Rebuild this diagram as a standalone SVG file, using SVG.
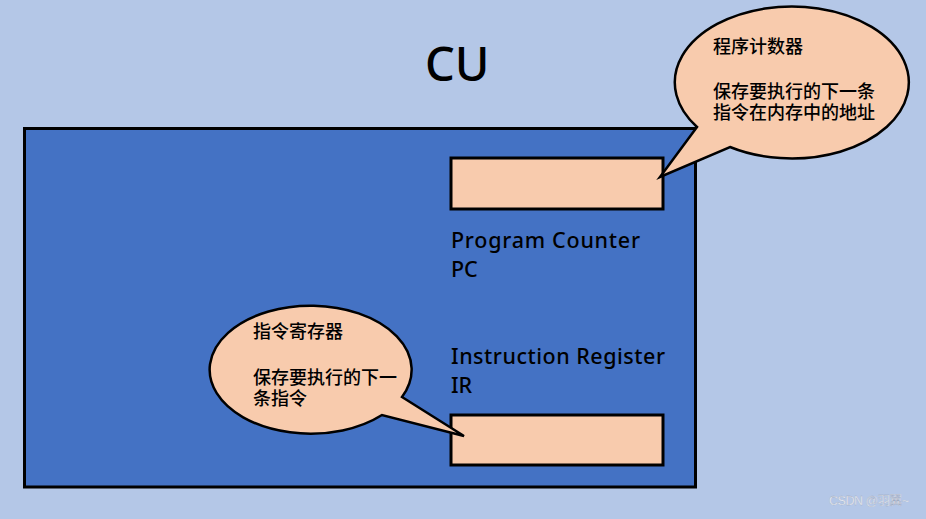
<svg xmlns="http://www.w3.org/2000/svg" width="926" height="519" viewBox="0 0 926 519">
<style>
.box{fill:#F8CBAD;stroke:#000;stroke-width:3}
.lbl{font-family:"Noto Sans","Noto Sans CJK SC",sans-serif;font-size:21.5px;font-weight:500;fill:#000}
.cn{font-family:"Noto Sans CJK SC","Noto Sans",sans-serif;font-size:18px;font-weight:500;fill:#000}
.bub{fill:#F8CBAD;stroke:#000;stroke-width:2.5;stroke-linejoin:miter}
</style>
<rect x="0" y="0" width="926" height="519" fill="#B4C7E7"/>
<g id="cu">
<rect x="24.5" y="128.5" width="671" height="358.5" fill="#4472C4" stroke="#000" stroke-width="3"/>
<text x="425" y="81" font-family="Noto Sans,sans-serif" font-size="47" font-weight="500" fill="#000">CU</text>
</g>
<g id="pc">
<rect class="box" x="451" y="158" width="212" height="51"/>
<text class="lbl" x="451" y="248" textLength="189">Program Counter</text>
<text class="lbl" x="451" y="277">PC</text>
</g>
<g id="ir">
<rect class="box" x="451" y="415" width="212" height="50"/>
<text class="lbl" x="451" y="364" textLength="214">Instruction Register</text>
<text class="lbl" x="451" y="393">IR</text>
</g>
<g id="connectors">
<path class="bub" d="M697,127 L660,177 L730,147 A117 76 0 1 0 697,127 Z"/>
<path class="bub" d="M402,397 L464,436 L382,415 A101 64 0 1 1 402,397 Z"/>
</g>
<g id="pc-note">
<text class="cn" x="713" y="53">程序计数器</text>
<text class="cn" x="713" y="98">保存要执行的下一条</text>
<text class="cn" x="713" y="119">指令在内存中的地址</text>
</g>
<g id="ir-note">
<text class="cn" x="253" y="338">指令寄存器</text>
<text class="cn" x="253" y="384">保存要执行的下一</text>
<text class="cn" x="253" y="405">条指令</text>
</g>
<text x="829" y="505" font-family="Liberation Sans,Noto Sans CJK SC,sans-serif" font-size="12.5" fill="#F4F6FA" stroke="#9AA6BC" stroke-width="0.3" textLength="80">CSDN @羽翼~</text>
</svg>
